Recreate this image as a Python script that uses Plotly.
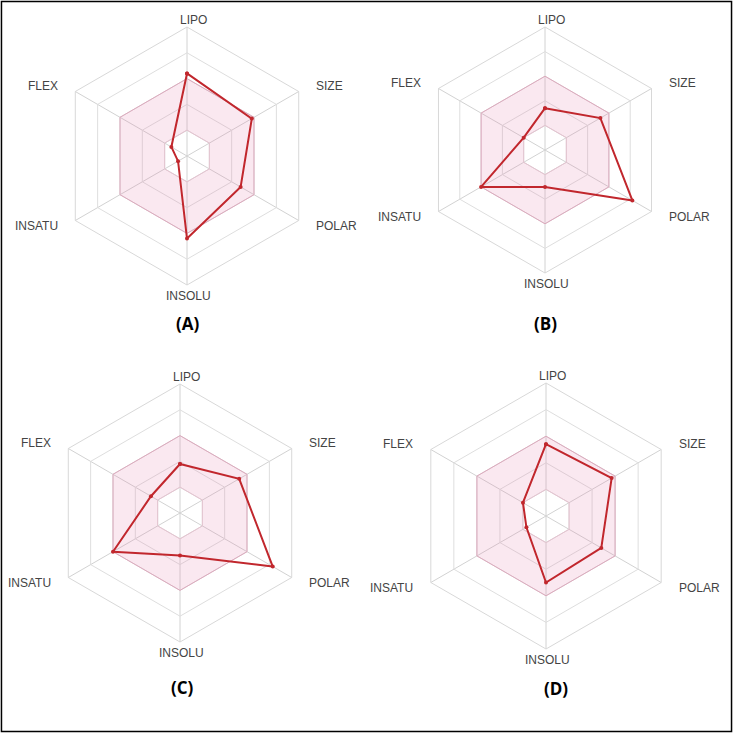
import math
import plotly.graph_objects as go

# bioavailability radar properties (clockwise from top)
props = ["LIPO", "SIZE", "POLAR", "INSOLU", "INSATU", "FLEX"]

# values (grid rings at 1..5)
compound_a = [3.2, 2.9, 2.4, 3.2, 0.4, 0.7]
compound_b = [1.7, 2.6, 4.1, 1.5, 3.0, 1.0]
compound_c = [1.9, 2.65, 4.15, 1.65, 3.0, 1.3]
compound_d = [2.7, 2.85, 2.4, 2.5, 0.85, 1.0]

# pink optimal zone
zone_low = [1, 1, 1, 1, 1, 1]
zone_high = [3, 3, 3, 3, 3, 3]

panel_labels = ["(A)", "(B)", "(C)", "(D)"]

W = H = 733
# panel centre (px) and outer radius (px)
panels = [
    (187, 156, 129),
    (545, 150, 123),
    (180, 513, 129),
    (546, 516, 133),
]
label_pos = [(187, 323), (545, 323), (182, 687), (556, 688)]

RED = "#c1272d"
fig = go.Figure()


def px(x, y):
    return x / W, 1 - y / H


for i, values in enumerate([compound_a, compound_b, compound_c, compound_d]):
    pid = "polar" if i == 0 else f"polar{i + 1}"
    # zone: outer ring one way, inner ring the other way -> hole in the middle
    zr = zone_high + zone_high[:1] + zone_low[:1] + zone_low[::-1]
    zt = props + props[:1] + props[:1] + props[::-1]
    fig.add_trace(go.Scatterpolar(
        r=zr, theta=zt, subplot=pid, mode="lines", fill="toself",
        fillcolor="rgba(225,130,170,0.18)", line=dict(width=0),
        hoverinfo="skip", showlegend=False,
    ))
    fig.add_trace(go.Scatterpolar(
        r=zone_high + zone_high[:1], theta=props + props[:1], subplot=pid,
        mode="lines", line=dict(color="#dcaabd", width=1),
        hoverinfo="skip", showlegend=False,
    ))
    fig.add_trace(go.Scatterpolar(
        r=zone_low + zone_low[:1], theta=props + props[:1], subplot=pid,
        mode="lines", line=dict(color="#e4c4d0", width=1),
        hoverinfo="skip", showlegend=False,
    ))
    fig.add_trace(go.Scatterpolar(
        r=values + values[:1], theta=props + props[:1], subplot=pid,
        mode="lines+markers", line=dict(color=RED, width=2),
        marker=dict(color=RED, size=4), showlegend=False,
    ))

    cx, cy, rad = panels[i]
    x0, y1 = px(cx - rad, cy - rad)
    x1, y0 = px(cx + rad, cy + rad)
    fig.layout[pid] = dict(
        domain=dict(x=[x0, x1], y=[y0, y1]),
        gridshape="linear",
        bgcolor="white",
        radialaxis=dict(range=[0, 5], tickvals=[1, 2, 3, 4, 5],
                        showticklabels=False, ticks="", showline=False,
                        gridcolor="#dedede", gridwidth=1),
        angularaxis=dict(type="category", categoryarray=props,
                         direction="clockwise", rotation=90, ticks="",
                         showticklabels=False,
                         linecolor="#d8d8d8", gridcolor="#d2d2d2"),
    )

    # property names just outside the hexagon corners
    for j, name in enumerate(props):
        a = math.radians(60 * j)
        s, c = math.sin(a), math.cos(a)
        if abs(s) < 0.1:
            lx = cx + (6 if c > 0 else 1)
            ly = cy - rad - 7 if c > 0 else cy + rad + 11
            xa = "center"
        else:
            lx = cx + (0.91 * rad + 10) * (1 if s > 0 else -1)
            ly = cy - 1.09 * rad * c
            xa = "left" if s > 0 else "right"
        ax, ay = px(lx, ly)
        fig.add_annotation(
            x=ax, y=ay, xref="paper", yref="paper", text=name,
            showarrow=False, xanchor=xa, yanchor="middle",
            font=dict(family="Liberation Sans", size=12, color="#444"),
        )

    lx, ly = label_pos[i]
    ax, ay = px(lx, ly)
    fig.add_annotation(
        x=ax, y=ay, xref="paper", yref="paper",
        text=f"<b>{panel_labels[i]}</b>", showarrow=False,
        xanchor="center", yanchor="middle",
        font=dict(family="Open Sans", size=17, color="black"),
    )

fig.add_shape(type="rect", xref="paper", yref="paper",
              x0=0.002, y0=0.002, x1=0.998, y1=0.998,
              line=dict(color="black", width=1.5))

fig.update_layout(
    width=W, height=H,
    margin=dict(l=0, r=0, t=0, b=0),
    paper_bgcolor="white",
    showlegend=False,
)
fig.write_html("out.html", config={"displayModeBar": False},
               post_script="document.body.style.margin='0';")
